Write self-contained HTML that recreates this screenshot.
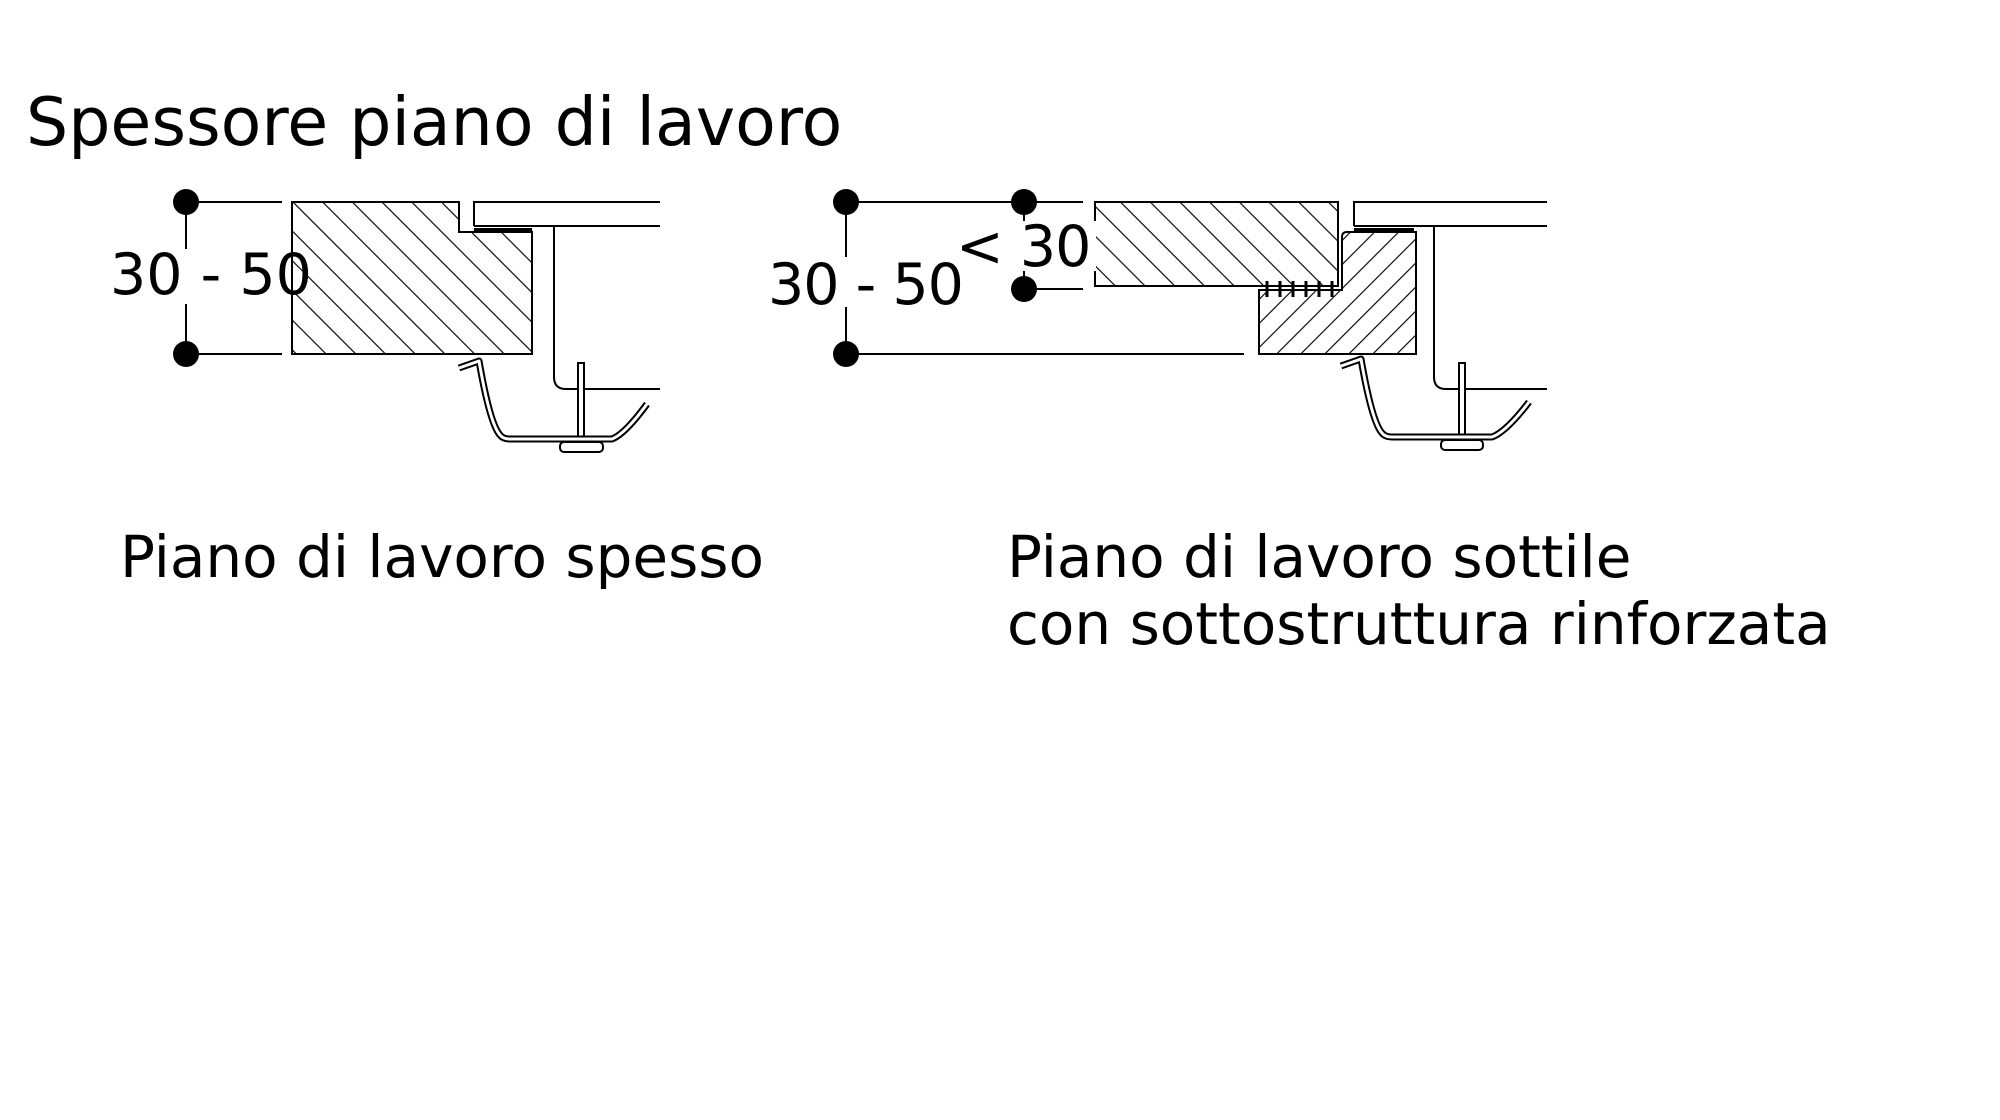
<!DOCTYPE html>
<html><head><meta charset="utf-8"><style>
html,body{margin:0;padding:0;background:#fff;}
svg{display:block;}
text{font-family:"DejaVu Sans","Liberation Sans",sans-serif;fill:#000;}
</style></head><body>
<svg width="2000" height="1120" viewBox="0 0 2000 1120" xmlns="http://www.w3.org/2000/svg">
<defs>
<pattern id="hb" patternUnits="userSpaceOnUse" width="21" height="21" patternTransform="rotate(-45)">
<line x1="0" y1="0" x2="0" y2="21" stroke="#000" stroke-width="2.3"/></pattern>
<pattern id="hf" patternUnits="userSpaceOnUse" width="17" height="17" patternTransform="rotate(45)">
<line x1="0" y1="0" x2="0" y2="17" stroke="#000" stroke-width="2.3"/></pattern>
</defs>
<rect width="2000" height="1120" fill="#fff"/>
<text x="26" y="145" font-size="66.5">Spessore piano di lavoro</text>

<g transform="translate(0,-1)">
<!-- LEFT -->
<g stroke="#000" stroke-width="2" fill="none">
<line x1="186" y1="203" x2="282" y2="203"/>
<line x1="186" y1="355" x2="282" y2="355"/>
<line x1="186" y1="203" x2="186" y2="250"/>
<line x1="186" y1="305" x2="186" y2="355"/>
<path d="M292 203 H459 V233 H532 V355 H292 Z" fill="url(#hb)"/>
<path d="M474 227 V203 H660 M474 227 H660"/>
<line x1="474" y1="231" x2="532" y2="231" stroke-width="4"/>
<path d="M554 227 V378 Q554 390 566 390 H660"/>
<rect x="578" y="364" width="6" height="78" fill="#fff"/>
<rect x="560" y="443" width="43" height="10" rx="4" fill="#fff"/>
</g>
<path d="M459 369 L479 362 Q490 425 500 436 Q503 440 510 440 H612 Q625 435 647 405" stroke="#000" stroke-width="7" fill="none" stroke-linejoin="round"/>
<path d="M459 369 L479 362 Q490 425 500 436 Q503 440 510 440 H612 Q625 435 647 405" stroke="#fff" stroke-width="3" fill="none" stroke-linejoin="round"/>
<circle cx="186" cy="203" r="13"/><circle cx="186" cy="355" r="13"/>
<text x="110" y="295" font-size="57">30 - 50</text>
</g>

<g transform="translate(-4,-1)">
<!-- RIGHT -->
<g stroke="#000" stroke-width="2" fill="none">
<line x1="850" y1="203" x2="1087" y2="203"/>
<line x1="1028" y1="290" x2="1087" y2="290"/>
<line x1="850" y1="355" x2="1248" y2="355"/>
<line x1="850" y1="203" x2="850" y2="258"/>
<line x1="850" y1="308" x2="850" y2="344"/>
<rect x="1099" y="203" width="243" height="84" fill="url(#hb)"/>
<path d="M1263 291 H1346 V238 Q1346 233 1351 233 H1420 V355 H1263 Z" fill="url(#hf)"/>
<path d="M1358 227 V203 H1551 M1358 227 H1551"/>
<line x1="1358" y1="231" x2="1418" y2="231" stroke-width="4"/>
<path d="M1438 227 V378 Q1438 390 1450 390 H1551"/>
<rect x="1463" y="364" width="6" height="74" fill="#fff"/>
<rect x="1445" y="441" width="42" height="10" rx="4" fill="#fff"/>
<g stroke-width="3"><line x1="1271" y1="282" x2="1271" y2="298"/><line x1="1284" y1="282" x2="1284" y2="298"/><line x1="1297" y1="282" x2="1297" y2="298"/><line x1="1310" y1="282" x2="1310" y2="298"/><line x1="1323" y1="282" x2="1323" y2="298"/><line x1="1336" y1="282" x2="1336" y2="298"/></g>
</g>
<path d="M1345 367 L1365 360 Q1376 423 1386 434 Q1389 438 1396 438 H1496 Q1510 433 1533 403" stroke="#000" stroke-width="7" fill="none" stroke-linejoin="round"/>
<path d="M1345 367 L1365 360 Q1376 423 1386 434 Q1389 438 1396 438 H1496 Q1510 433 1533 403" stroke="#fff" stroke-width="3" fill="none" stroke-linejoin="round"/>
<circle cx="850" cy="203" r="13"/><circle cx="850" cy="355" r="13"/>
<circle cx="1028" cy="203" r="13"/><circle cx="1028" cy="290" r="13"/>
<line x1="1028" y1="203" x2="1028" y2="290" stroke="#000" stroke-width="2"/>
<rect x="960" y="222" width="140" height="50" fill="#fff"/>
<text x="772" y="305" font-size="57" letter-spacing="-1">30 - 50</text>
<text x="960" y="267" font-size="57" letter-spacing="-1">&lt; 30</text>
</g>

<text x="120" y="577" font-size="58">Piano di lavoro spesso</text>
<text x="1007" y="577" font-size="58">Piano di lavoro sottile</text>
<text x="1007" y="644" font-size="58">con sottostruttura rinforzata</text>
</svg>
</body></html>
